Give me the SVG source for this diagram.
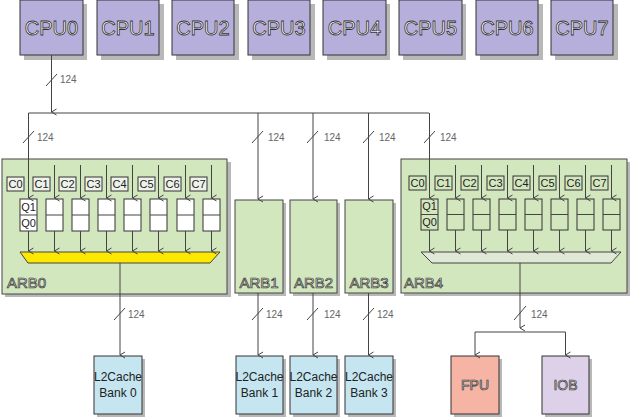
<svg xmlns="http://www.w3.org/2000/svg" width="630" height="417" viewBox="0 0 630 417">
<defs>
<marker id="ah" viewBox="0 0 8 8" refX="4" refY="7" markerWidth="8" markerHeight="8" markerUnits="userSpaceOnUse" orient="auto-start-reverse">
<path d="M1,2 L4,7 L7,2" fill="none" stroke="#444" stroke-width="1"/>
</marker>
<marker id="ahv" viewBox="0 0 8 8" refX="4" refY="7" markerWidth="8" markerHeight="8" markerUnits="userSpaceOnUse" orient="auto">
<path d="M1,2 L4,7 L7,2" fill="none" stroke="#444" stroke-width="1"/>
</marker>
</defs>
<style>
.sh{fill:#b8b8b8}
.cpu{fill:#b6aedb;stroke:#333;stroke-width:1}
.cpuT{font-family:"Liberation Sans",Arial,sans-serif;font-size:20px;fill:#fff;stroke:#333;stroke-width:0.8;text-anchor:middle}
.arb{fill:#d3e7be;stroke:#444;stroke-width:1}
.arbT{font-family:"Liberation Sans",Arial,sans-serif;font-size:15px;fill:#eef3e8;stroke:#333;stroke-width:0.7}
.cb{fill:#eef2ea;stroke:#333;stroke-width:1}
.cb4{fill:#d3e7be;stroke:#333;stroke-width:1}
.cT{font-family:"Liberation Sans",Arial,sans-serif;font-size:11px;fill:#222;text-anchor:middle}
.q{fill:#fff;stroke:#333;stroke-width:1}
.q4{fill:#d3e7be;stroke:#333;stroke-width:1}
.l2{fill:#c5e5f1;stroke:#333;stroke-width:1}
.l2T{font-family:"Liberation Sans",Arial,sans-serif;font-size:12px;fill:#222;text-anchor:middle}
.bT{font-family:"Liberation Sans",Arial,sans-serif;font-size:14px;fill:#eee;stroke:#333;stroke-width:0.7;text-anchor:middle}
.ln{fill:none;stroke:#444;stroke-width:1}
.sl{stroke:#444;stroke-width:1}
.lb{font-family:"Liberation Sans",Arial,sans-serif;font-size:10px;fill:#666}
</style>
<rect width="630" height="417" fill="#fff"/>

<g id="cpu0"><rect class="sh" x="24" y="4" width="63" height="56"/><rect class="cpu" x="20" y="0" width="63" height="55"/><text class="cpuT" x="51.5" y="35">CPU0</text></g>
<g id="cpu1"><rect class="sh" x="101" y="4" width="63" height="56"/><rect class="cpu" x="97" y="0" width="62" height="55"/><text class="cpuT" x="128" y="35">CPU1</text></g>
<g id="cpu2"><rect class="sh" x="176" y="4" width="63" height="56"/><rect class="cpu" x="172" y="0" width="62" height="55"/><text class="cpuT" x="203" y="35">CPU2</text></g>
<g id="cpu3"><rect class="sh" x="252" y="4" width="63" height="56"/><rect class="cpu" x="248" y="0" width="62" height="55"/><text class="cpuT" x="279" y="35">CPU3</text></g>
<g id="cpu4"><rect class="sh" x="327" y="4" width="63" height="56"/><rect class="cpu" x="323" y="0" width="63" height="55"/><text class="cpuT" x="354.5" y="35">CPU4</text></g>
<g id="cpu5"><rect class="sh" x="403" y="4" width="63" height="56"/><rect class="cpu" x="399" y="0" width="63" height="55"/><text class="cpuT" x="430.5" y="35">CPU5</text></g>
<g id="cpu6"><rect class="sh" x="480" y="4" width="63" height="56"/><rect class="cpu" x="476" y="0" width="62" height="55"/><text class="cpuT" x="507" y="35">CPU6</text></g>
<g id="cpu7"><rect class="sh" x="555" y="4" width="63" height="56"/><rect class="cpu" x="551" y="0" width="62" height="55"/><text class="cpuT" x="582" y="35">CPU7</text></g>

<g id="arb0">
<rect class="sh" x="5" y="162" width="226" height="135"/>
<rect class="arb" x="2" y="159" width="225" height="135"/>
<rect class="cb" x="7" y="177" width="17" height="14"/><text class="cT" x="15.5" y="188">C0</text>
<rect class="cb" x="33" y="177" width="17" height="14"/><text class="cT" x="41.5" y="188">C1</text>
<rect class="cb" x="59" y="177" width="17" height="14"/><text class="cT" x="67.5" y="188">C2</text>
<rect class="cb" x="85" y="177" width="17" height="14"/><text class="cT" x="93.5" y="188">C3</text>
<rect class="cb" x="111" y="177" width="17" height="14"/><text class="cT" x="119.5" y="188">C4</text>
<rect class="cb" x="138" y="177" width="17" height="14"/><text class="cT" x="146.5" y="188">C5</text>
<rect class="cb" x="164" y="177" width="17" height="14"/><text class="cT" x="172.5" y="188">C6</text>
<rect class="cb" x="190" y="177" width="17" height="14"/><text class="cT" x="198.5" y="188">C7</text>
<rect class="q" x="20" y="199" width="17" height="32"/><line class="sl" x1="20" y1="215" x2="37" y2="215"/>
<text class="cT" x="28.5" y="211">Q1</text><text class="cT" x="28.5" y="227">Q0</text>
<rect class="q" x="46" y="199" width="17" height="32"/><line class="sl" x1="46" y1="215" x2="63" y2="215"/>
<rect class="q" x="72" y="199" width="17" height="32"/><line class="sl" x1="72" y1="215" x2="89" y2="215"/>
<rect class="q" x="98" y="199" width="17" height="32"/><line class="sl" x1="98" y1="215" x2="115" y2="215"/>
<rect class="q" x="124" y="199" width="17" height="32"/><line class="sl" x1="124" y1="215" x2="141" y2="215"/>
<rect class="q" x="150" y="199" width="17" height="32"/><line class="sl" x1="150" y1="215" x2="167" y2="215"/>
<rect class="q" x="177" y="199" width="17" height="32"/><line class="sl" x1="177" y1="215" x2="194" y2="215"/>
<rect class="q" x="203" y="199" width="17" height="32"/><line class="sl" x1="203" y1="215" x2="220" y2="215"/>
<polygon points="20,252 220,252 210,263 28,263" fill="#ffe800" stroke="#444" stroke-width="1"/>
<text class="arbT" x="7" y="288">ARB0</text>
</g>

<g id="arb1"><rect class="sh" x="238" y="203" width="48" height="93"/><rect class="arb" x="235" y="200" width="48" height="93"/><text class="arbT" x="259" y="288" text-anchor="middle">ARB1</text></g>
<g id="arb2"><rect class="sh" x="293" y="203" width="47" height="93"/><rect class="arb" x="290" y="200" width="47" height="93"/><text class="arbT" x="313.5" y="288" text-anchor="middle">ARB2</text></g>
<g id="arb3"><rect class="sh" x="348" y="203" width="48" height="93"/><rect class="arb" x="345" y="200" width="48" height="93"/><text class="arbT" x="369" y="288" text-anchor="middle">ARB3</text></g>

<g id="arb4">
<rect class="sh" x="404" y="162" width="226" height="134"/>
<rect class="arb" x="401" y="159" width="226" height="134"/>
<rect class="cb4" x="409" y="176" width="17" height="14"/><text class="cT" x="417.5" y="187">C0</text>
<rect class="cb4" x="435" y="176" width="17" height="14"/><text class="cT" x="443.5" y="187">C1</text>
<rect class="cb4" x="461" y="176" width="17" height="14"/><text class="cT" x="469.5" y="187">C2</text>
<rect class="cb4" x="487" y="176" width="17" height="14"/><text class="cT" x="495.5" y="187">C3</text>
<rect class="cb4" x="513" y="176" width="17" height="14"/><text class="cT" x="521.5" y="187">C4</text>
<rect class="cb4" x="539" y="176" width="17" height="14"/><text class="cT" x="547.5" y="187">C5</text>
<rect class="cb4" x="565" y="176" width="17" height="14"/><text class="cT" x="573.5" y="187">C6</text>
<rect class="cb4" x="591" y="176" width="17" height="14"/><text class="cT" x="599.5" y="187">C7</text>
<rect class="q4" x="421" y="199" width="17" height="31"/><line class="sl" x1="421" y1="214.5" x2="438" y2="214.5"/>
<text class="cT" x="429.5" y="210">Q1</text><text class="cT" x="429.5" y="226">Q0</text>
<rect class="q4" x="447" y="199" width="17" height="31"/><line class="sl" x1="447" y1="214.5" x2="464" y2="214.5"/>
<rect class="q4" x="473" y="199" width="17" height="31"/><line class="sl" x1="473" y1="214.5" x2="490" y2="214.5"/>
<rect class="q4" x="499" y="199" width="17" height="31"/><line class="sl" x1="499" y1="214.5" x2="516" y2="214.5"/>
<rect class="q4" x="525" y="199" width="17" height="31"/><line class="sl" x1="525" y1="214.5" x2="542" y2="214.5"/>
<rect class="q4" x="551" y="199" width="17" height="31"/><line class="sl" x1="551" y1="214.5" x2="568" y2="214.5"/>
<rect class="q4" x="577" y="199" width="17" height="31"/><line class="sl" x1="577" y1="214.5" x2="594" y2="214.5"/>
<rect class="q4" x="603" y="199" width="17" height="31"/><line class="sl" x1="603" y1="214.5" x2="620" y2="214.5"/>
<polygon points="421,252 621,252 611,263 432,263" fill="#dfe9d6" stroke="#444" stroke-width="1"/>
<text class="arbT" x="404" y="288">ARB4</text>
</g>

<g id="l2bank0"><rect class="sh" x="97" y="359" width="48" height="58"/><rect class="l2" x="94" y="356" width="48" height="58"/><text class="l2T" x="118" y="381">L2Cache</text><text class="l2T" x="118" y="397">Bank 0</text></g>
<g id="l2bank1"><rect class="sh" x="239" y="359" width="47" height="58"/><rect class="l2" x="236" y="356" width="47" height="58"/><text class="l2T" x="259.5" y="381">L2Cache</text><text class="l2T" x="259.5" y="397">Bank 1</text></g>
<g id="l2bank2"><rect class="sh" x="293" y="359" width="47" height="58"/><rect class="l2" x="290" y="356" width="47" height="58"/><text class="l2T" x="313.5" y="381">L2Cache</text><text class="l2T" x="313.5" y="397">Bank 2</text></g>
<g id="l2bank3"><rect class="sh" x="348" y="359" width="48" height="58"/><rect class="l2" x="345" y="356" width="48" height="58"/><text class="l2T" x="369" y="381">L2Cache</text><text class="l2T" x="369" y="397">Bank 3</text></g>
<g id="fpu"><rect class="sh" x="454" y="359" width="48" height="58"/><rect x="451" y="356" width="48" height="58" fill="#f5b4a4" stroke="#333"/><text class="bT" x="475" y="390">FPU</text></g>
<g id="iob"><rect class="sh" x="545" y="359" width="47" height="58"/><rect x="542" y="356" width="47" height="58" fill="#ddd1e9" stroke="#333"/><text class="bT" x="565.5" y="390">IOB</text></g>

<g id="connectors">
<line class="ln" x1="51.5" y1="55" x2="51.5" y2="112" marker-end="url(#ah)"/>
<line class="sl" x1="46" y1="86" x2="57" y2="74"/><text class="lb" x="60" y="83">124</text>
<polyline class="ln" points="28.5,113 429,113"/>
<line class="ln" x1="28.5" y1="113" x2="28.5" y2="198" marker-end="url(#ah)"/>
<line class="ln" x1="258" y1="113" x2="258" y2="199" marker-end="url(#ah)"/>
<line class="ln" x1="313" y1="113" x2="313" y2="199" marker-end="url(#ah)"/>
<line class="ln" x1="368.5" y1="113" x2="368.5" y2="199" marker-end="url(#ah)"/>
<line class="ln" x1="429.5" y1="113" x2="429.5" y2="198" marker-end="url(#ah)"/>
<line class="sl" x1="23" y1="143" x2="34" y2="131"/><text class="lb" x="37" y="141">124</text>
<line class="sl" x1="252" y1="143" x2="263" y2="131"/><text class="lb" x="268" y="141">124</text>
<line class="sl" x1="307" y1="143" x2="318" y2="131"/><text class="lb" x="324" y="141">124</text>
<line class="sl" x1="363" y1="143" x2="374" y2="131"/><text class="lb" x="379" y="141">124</text>
<line class="sl" x1="424" y1="143" x2="435" y2="131"/><text class="lb" x="440" y="141">124</text>
<g>
<line class="ln" x1="54.5" y1="165" x2="54.5" y2="198" marker-end="url(#ah)"/>
<line class="ln" x1="80.5" y1="165" x2="80.5" y2="198" marker-end="url(#ah)"/>
<line class="ln" x1="106.5" y1="165" x2="106.5" y2="198" marker-end="url(#ah)"/>
<line class="ln" x1="132.5" y1="165" x2="132.5" y2="198" marker-end="url(#ah)"/>
<line class="ln" x1="158.5" y1="165" x2="158.5" y2="198" marker-end="url(#ah)"/>
<line class="ln" x1="185.5" y1="165" x2="185.5" y2="198" marker-end="url(#ah)"/>
<line class="ln" x1="211.5" y1="165" x2="211.5" y2="198" marker-end="url(#ah)"/>
<line class="ln" x1="28.5" y1="231" x2="28.5" y2="251" marker-end="url(#ah)"/>
<line class="ln" x1="54.5" y1="231" x2="54.5" y2="251" marker-end="url(#ah)"/>
<line class="ln" x1="80.5" y1="231" x2="80.5" y2="251" marker-end="url(#ah)"/>
<line class="ln" x1="106.5" y1="231" x2="106.5" y2="251" marker-end="url(#ah)"/>
<line class="ln" x1="132.5" y1="231" x2="132.5" y2="251" marker-end="url(#ah)"/>
<line class="ln" x1="158.5" y1="231" x2="158.5" y2="251" marker-end="url(#ah)"/>
<line class="ln" x1="185.5" y1="231" x2="185.5" y2="251" marker-end="url(#ah)"/>
<line class="ln" x1="211.5" y1="231" x2="211.5" y2="251" marker-end="url(#ah)"/>
</g>
<g>
<line class="ln" x1="455.5" y1="165" x2="455.5" y2="198" marker-end="url(#ah)"/>
<line class="ln" x1="481.5" y1="165" x2="481.5" y2="198" marker-end="url(#ah)"/>
<line class="ln" x1="507.5" y1="165" x2="507.5" y2="198" marker-end="url(#ah)"/>
<line class="ln" x1="533.5" y1="165" x2="533.5" y2="198" marker-end="url(#ah)"/>
<line class="ln" x1="559.5" y1="165" x2="559.5" y2="198" marker-end="url(#ah)"/>
<line class="ln" x1="585.5" y1="165" x2="585.5" y2="198" marker-end="url(#ah)"/>
<line class="ln" x1="611.5" y1="165" x2="611.5" y2="198" marker-end="url(#ah)"/>
<line class="ln" x1="429.5" y1="230" x2="429.5" y2="251" marker-end="url(#ah)"/>
<line class="ln" x1="455.5" y1="230" x2="455.5" y2="251" marker-end="url(#ah)"/>
<line class="ln" x1="481.5" y1="230" x2="481.5" y2="251" marker-end="url(#ah)"/>
<line class="ln" x1="507.5" y1="230" x2="507.5" y2="251" marker-end="url(#ah)"/>
<line class="ln" x1="533.5" y1="230" x2="533.5" y2="251" marker-end="url(#ah)"/>
<line class="ln" x1="559.5" y1="230" x2="559.5" y2="251" marker-end="url(#ah)"/>
<line class="ln" x1="585.5" y1="230" x2="585.5" y2="251" marker-end="url(#ah)"/>
<line class="ln" x1="611.5" y1="230" x2="611.5" y2="251" marker-end="url(#ah)"/>
</g>
<line class="ln" x1="120" y1="263" x2="120" y2="355" marker-end="url(#ah)"/>
<line class="sl" x1="114" y1="320" x2="125" y2="308"/><text class="lb" x="128" y="318">124</text>
<line class="ln" x1="258" y1="293" x2="258" y2="355" marker-end="url(#ah)"/>
<line class="sl" x1="252" y1="320" x2="263" y2="308"/><text class="lb" x="266" y="318">124</text>
<line class="ln" x1="313" y1="293" x2="313" y2="355" marker-end="url(#ah)"/>
<line class="sl" x1="307" y1="320" x2="318" y2="308"/><text class="lb" x="324" y="318">124</text>
<line class="ln" x1="368.5" y1="293" x2="368.5" y2="355" marker-end="url(#ah)"/>
<line class="sl" x1="363" y1="320" x2="374" y2="308"/><text class="lb" x="377" y="318">124</text>
<line class="ln" x1="520" y1="263" x2="520" y2="328" marker-end="url(#ah)"/>
<polyline class="ln" points="520,332 475,332 475,355" marker-end="url(#ah)"/>
<polyline class="ln" points="520,332 565.5,332 565.5,355" marker-end="url(#ah)"/>
<line class="sl" x1="514" y1="320" x2="526" y2="306"/><text class="lb" x="531" y="318">124</text>
</g>
</svg>
